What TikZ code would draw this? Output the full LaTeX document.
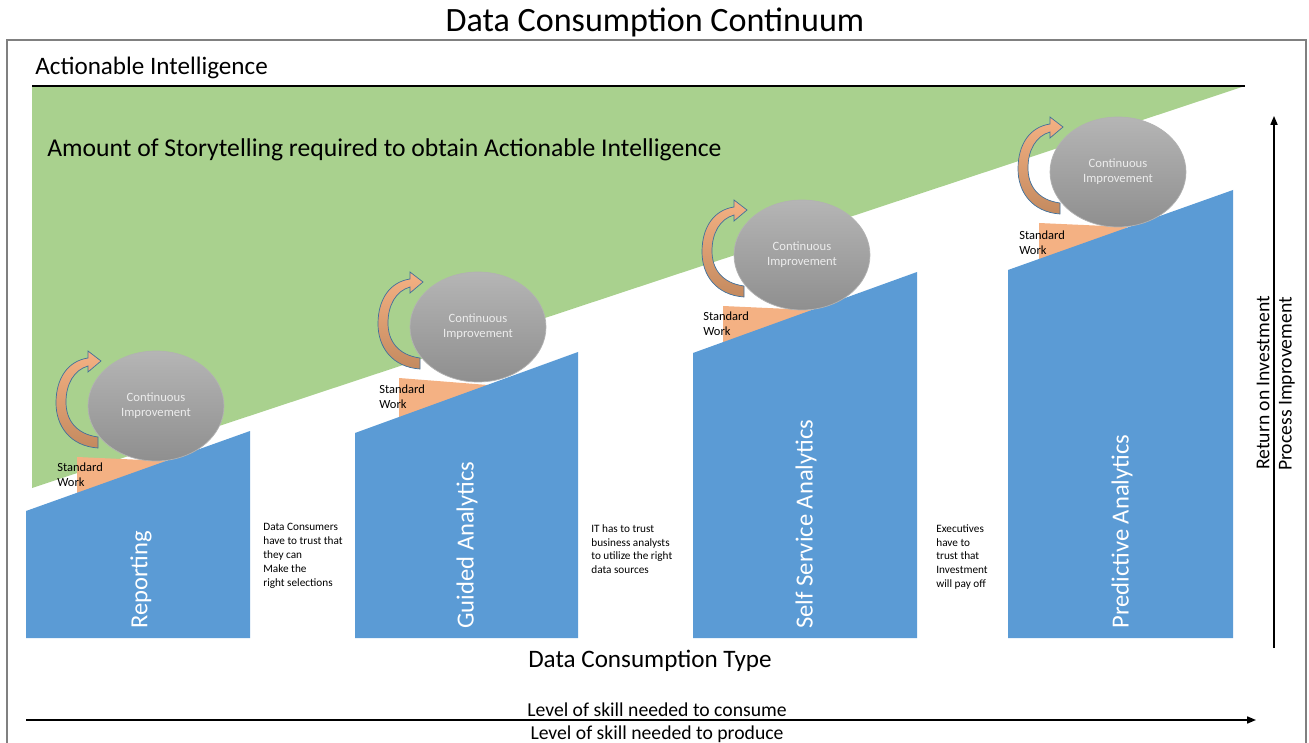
\documentclass[tikz,border=0pt]{standalone}
\usepackage{fontspec}
\setmainfont{Carlito}
\usetikzlibrary{shapes.geometric, arrows.meta, positioning}

\definecolor{storygreen}{HTML}{A9D18E}
\definecolor{stageblue}{HTML}{5B9BD5}
\definecolor{workorange}{HTML}{F4B183}
\definecolor{arrowdark}{HTML}{C48A5F}
\definecolor{arrowedge}{HTML}{41719C}
\definecolor{framegray}{HTML}{808080}

\begin{document}
\begin{tikzpicture}[
    x=0.02cm, y=-0.02cm,
    heading/.style={inner sep=0, font=\fontsize{14.3}{16}\selectfont},
    stage/.style={fill=stageblue},
    stagelabel/.style={rotate=90, anchor=west, inner sep=0, text=white, font=\fontsize{14}{16}\selectfont},
    standard/.style={fill=workorange},
    improve/.style={ellipse, draw=gray!60, top color=gray!58, bottom color=gray!88, minimum width=2.72cm, minimum height=2.2cm, align=center, text=gray!15, font=\fontsize{7.2}{8.6}\selectfont},
    cycle arrow/.style={draw=arrowedge, line width=0.4pt, top color=workorange, bottom color=arrowdark},
    worklabel/.style={anchor=west, inner sep=0, align=left, font=\fontsize{7.1}{8.6}\selectfont},
    trust/.style={anchor=north west, inner sep=0, align=left, font=\fontsize{6.4}{7.9}\selectfont},
    axis/.style={-{Triangle[width=4pt, length=5pt]}, thick}
]
\useasboundingbox (0,0) rectangle (1309,743);

% Frame and title
\draw[framegray, thick] (7,760) -- (7,40) -- (1306,40) -- (1306,760);
\node[inner sep=0, font=\fontsize{19.4}{22}\selectfont] (title) at (655,22) {Data Consumption Continuum};

% Storytelling wedge
\fill[storygreen] (32,86) -- (1245,86) -- (32,488) -- cycle;
\draw[line width=1pt] (32,86) -- (1245,86);
\node[heading, anchor=west] (actionable) at (35,68) {Actionable Intelligence};
\node[heading, anchor=west, font=\fontsize{14.6}{16}\selectfont] (storytelling) at (47,150) {Amount of Storytelling required to obtain Actionable Intelligence};

% Reporting
\fill[standard] (77,457) -- (166,461) -- (77,505) -- cycle;
\fill[stage] (26,511) -- (250,431) -- (250,638) -- (26,638) -- cycle;
\node[stagelabel] (reporting) at (141,629) {Reporting};
\node[improve] (ci-reporting) at (156,406) {Continuous\\Improvement};
\begin{scope}[shift={(ci-reporting.center)}]
\path[cycle arrow] (-58,42) .. controls (-86,40) and (-100,20) .. (-100,-3) .. controls (-100,-28) and (-88,-45) .. (-68,-48)
  -- (-68,-55) -- (-55,-45) -- (-68,-34) -- (-68,-40) .. controls (-82,-36) and (-90,-22) .. (-90,-4) .. controls (-90,14) and (-80,28) .. (-58,31) -- cycle;
\end{scope}
\node[worklabel] (sw-reporting) at (57,475) {Standard\\Work};

% Guided Analytics
\fill[standard] (399,378) -- (488,385) -- (399,425) -- cycle;
\fill[stage] (355,433) -- (578,352) -- (578,638) -- (355,638) -- cycle;
\node[stagelabel] (guided) at (467,629) {Guided Analytics};
\node[improve] (ci-guided) at (478,327) {Continuous\\Improvement};
\begin{scope}[shift={(ci-guided.center)}]
\path[cycle arrow] (-58,42) .. controls (-86,40) and (-100,20) .. (-100,-3) .. controls (-100,-28) and (-88,-45) .. (-68,-48)
  -- (-68,-55) -- (-55,-45) -- (-68,-34) -- (-68,-40) .. controls (-82,-36) and (-90,-22) .. (-90,-4) .. controls (-90,14) and (-80,28) .. (-58,31) -- cycle;
\end{scope}
\node[worklabel] (sw-guided) at (379,397) {Standard\\Work};

% Self Service Analytics
\fill[standard] (723,306) -- (812,310) -- (723,350) -- cycle;
\fill[stage] (693,353) -- (917,272) -- (917,638) -- (693,638) -- cycle;
\node[stagelabel] (selfservice) at (806,629) {Self Service Analytics};
\node[improve] (ci-selfservice) at (802,255) {Continuous\\Improvement};
\begin{scope}[shift={(ci-selfservice.center)}]
\path[cycle arrow] (-58,42) .. controls (-86,40) and (-100,20) .. (-100,-3) .. controls (-100,-28) and (-88,-45) .. (-68,-48)
  -- (-68,-55) -- (-55,-45) -- (-68,-34) -- (-68,-40) .. controls (-82,-36) and (-90,-22) .. (-90,-4) .. controls (-90,14) and (-80,28) .. (-58,31) -- cycle;
\end{scope}
\node[worklabel] (sw-selfservice) at (703,324) {Standard\\Work};

% Predictive Analytics
\fill[standard] (1039,223) -- (1128,227) -- (1039,268) -- cycle;
\fill[stage] (1008,270) -- (1233,190) -- (1233,638) -- (1008,638) -- cycle;
\node[stagelabel] (predictive) at (1122,629) {Predictive Analytics};
\node[improve] (ci-predictive) at (1118,172) {Continuous\\Improvement};
\begin{scope}[shift={(ci-predictive.center)}]
\path[cycle arrow] (-58,42) .. controls (-86,40) and (-100,20) .. (-100,-3) .. controls (-100,-28) and (-88,-45) .. (-68,-48)
  -- (-68,-55) -- (-55,-45) -- (-68,-34) -- (-68,-40) .. controls (-82,-36) and (-90,-22) .. (-90,-4) .. controls (-90,14) and (-80,28) .. (-58,31) -- cycle;
\end{scope}
\node[worklabel] (sw-predictive) at (1019,243) {Standard\\Work};

% Trust notes between stages
\node[trust] (trust-consumers) at (263,523) {Data Consumers\\have to trust that\\they can\\Make the\\right selections};
\node[trust] (trust-it) at (591,524) {IT has to trust\\business analysts\\to utilize the right\\data sources};
\node[trust] (trust-exec) at (936,524) {Executives\\have to\\trust that\\Investment\\will pay off};

% Axes
\node[heading] (consumption-type) at (650,661) {Data Consumption Type};
\coordinate (skill-start) at (26,720);
\coordinate (skill-end) at (1256,720);
\draw[axis] (skill-start) -- (skill-end);
\node[inner sep=0, font=\fontsize{11.2}{13}\selectfont] (skill-consume) at (657,710) {Level of skill needed to consume};
\node[inner sep=0, font=\fontsize{11.2}{13}\selectfont] (skill-produce) at (657,734) {Level of skill needed to produce};
\coordinate (roi-start) at (1274,648);
\coordinate (roi-end) at (1274,116);
\draw[axis] (roi-start) -- (roi-end);
\node[rotate=90, inner sep=0, font=\fontsize{11.2}{13}\selectfont] (roi) at (1263,383) {Return on Investment};
\node[rotate=90, inner sep=0, font=\fontsize{11.2}{13}\selectfont] (process-imp) at (1287,384) {Process Improvement};

\end{tikzpicture}
\end{document}
